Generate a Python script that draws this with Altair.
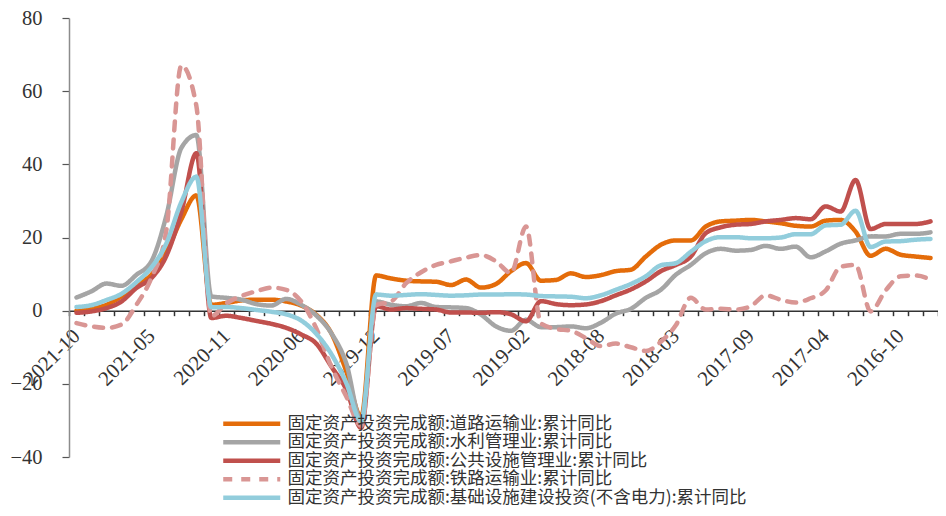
import altair as alt
import pandas as pd

months = [
    "2021-10", "2021-09", "2021-08", "2021-07", "2021-06", "2021-05", "2021-04", "2021-03", "2021-02",
    "2020-12", "2020-11", "2020-10", "2020-09", "2020-08", "2020-07", "2020-06", "2020-05", "2020-04", "2020-03", "2020-02",
    "2019-12", "2019-11", "2019-10", "2019-09", "2019-08", "2019-07", "2019-06", "2019-05", "2019-04", "2019-03", "2019-02",
    "2018-12", "2018-11", "2018-10", "2018-09", "2018-08", "2018-07", "2018-06", "2018-05", "2018-04", "2018-03", "2018-02",
    "2017-12", "2017-11", "2017-10", "2017-09", "2017-08", "2017-07", "2017-06", "2017-05", "2017-04", "2017-03", "2017-02",
    "2016-12", "2016-11", "2016-10", "2016-09", "2016-08",
]
label_months = ["2021-10", "2021-05", "2020-11", "2020-06", "2019-12", "2019-07",
                "2019-02", "2018-08", "2018-03", "2017-09", "2017-04", "2016-10"]

road = [0.0, 0.5, 1.6, 3.9, 7.1, 9.8, 16.0, 25.0, 31.5,
        1.6, 2.1, 2.8, 3.0, 3.0, 2.5, 1.4, -1.1, -6.1, -16.5, -29.0,
        9.6, 8.8, 8.2, 8.0, 7.9, 7.0, 8.5, 6.3, 7.3, 10.8, 13.0,
        8.2, 8.4, 10.2, 9.2, 9.7, 10.8, 11.2, 14.8, 18.0, 19.2, 19.2,
        23.0, 24.4, 24.6, 24.8, 24.4, 23.9, 23.2, 23.0, 24.6, 24.8, 21.6,
        15.0, 16.9, 15.3, 14.8, 14.4]
water = [3.6, 5.3, 7.4, 6.8, 9.8, 13.5, 26.0, 44.5, 48.0,
         3.9, 3.5, 3.0, 1.8, 1.4, 3.2, 1.6, -1.3, -6.1, -14.3, -30.0,
         2.5, 1.6, 1.2, 2.1, 1.0, 0.9, 0.7, -1.1, -4.3, -5.5, -2.5,
         -4.5, -4.5, -4.3, -4.8, -3.3, -0.8, 0.5, 3.5, 5.7, 9.8, 12.5,
         15.7, 16.9, 16.4, 16.6, 17.7, 16.9, 17.5, 14.6, 16.2, 18.3, 19.2,
         20.3, 20.3, 21.0, 21.0, 21.4]
public = [-0.6, -0.2, 0.7, 2.5, 6.2, 8.9, 15.0, 27.0, 43.0,
          -2.0, -1.4, -2.0, -2.8, -3.6, -4.7, -6.5, -9.0, -15.2, -21.5, -32.0,
          1.2, 0.3, 0.7, 0.5, 0.3, -0.5, -0.5, -0.6, -0.4, -1.0, -2.9,
          2.6, 1.8, 1.5, 1.7, 2.6, 4.2, 5.8, 8.0, 10.8, 12.5, 14.8,
          21.2, 22.8, 23.5, 23.7, 24.4, 24.8, 25.3, 25.0, 28.5, 27.1, 35.7,
          22.3, 23.7, 23.7, 23.7, 24.4]
railway = [-3.4, -4.3, -4.7, -3.8, 1.6, 9.0, 22.0, 67.0, 56.0,
           -1.5, 2.0, 4.0, 5.3, 6.3, 5.7, 2.5, -4.8, -15.2, -23.4, -31.5,
           1.5, 2.5, 7.5, 10.5, 12.5, 13.5, 14.5, 15.2, 13.5, 10.3, 23.0,
           -3.5, -5.0, -5.5, -7.5, -9.7, -9.0, -10.0, -11.0, -8.5, -4.0, 3.5,
           0.3, 0.5, 0.3, 1.2, 4.2, 3.0, 2.2, 3.4, 5.5, 12.0, 12.5,
           -0.2, 5.5, 9.4, 9.6, 8.5]
infra = [1.0, 1.5, 2.9, 4.6, 7.8, 11.8, 18.4, 29.7, 36.6,
         0.9, 1.0, 0.7, 0.2, -0.3, -1.0, -2.7, -6.3, -11.8, -19.7, -30.3,
         4.4, 4.1, 4.3, 4.5, 4.3, 4.1, 4.2, 4.4, 4.4, 4.5, 4.4,
         4.0, 3.9, 3.8, 3.4, 4.2, 5.7, 7.3, 9.4, 12.4, 13.0, 16.1,
         19.0, 20.1, 20.1, 19.8, 19.8, 20.0, 20.9, 20.9, 23.3, 23.5, 27.3,
         17.4, 18.9, 19.0, 19.4, 19.6]

series_names = [
    "固定资产投资完成额:道路运输业:累计同比",
    "固定资产投资完成额:水利管理业:累计同比",
    "固定资产投资完成额:公共设施管理业:累计同比",
    "固定资产投资完成额:铁路运输业:累计同比",
    "固定资产投资完成额:基础设施建设投资(不含电力):累计同比",
]
series_values = [road, water, public, railway, infra]
colors = ["#E46C0A", "#A5A5A5", "#C0504D", "#D99694", "#92CDDC"]
dashes = [[1, 0], [1, 0], [1, 0], [9, 9], [1, 0]]

rows = []
for name, vals in zip(series_names, series_values):
    for m, v in zip(months, vals):
        rows.append({"month": m, "value": v, "series": name})
df = pd.DataFrame(rows)

W, H = 869, 439
num_font = "Liberation Serif"
label_expr = "indexof([" + ",".join("'%s'" % m for m in label_months) + "], datum.value) >= 0 ? datum.value : ''"

leg = alt.Legend(
    title=None, orient="none", legendX=198, legendY=397, direction="vertical",
    symbolType="M-11.67,0H1", symbolSize=81, symbolStrokeWidth=4.5,
    labelFont="Noto Sans CJK SC", labelFontSize=17.5, labelColor="#333333",
    labelLimit=0, rowPadding=-0.5, labelOffset=3, padding=0, symbolOffset=0,
)

chart = alt.Chart(df).mark_line(
    interpolate="monotone", strokeWidth=4.5, strokeCap="round", strokeJoin="round"
).encode(
    x=alt.X("month:N", sort=months, title=None,
            scale=alt.Scale(type="band", paddingInner=0, paddingOuter=0),
            axis=alt.Axis(orient="bottom", offset=-H * 40 / 120, tickBand="extent",
                          labelExpr=label_expr, labelOverlap=False, labelAngle=-45,
                          labelAlign="right", labelBaseline="middle", labelPadding=17,
                          labelFont=num_font, labelFontSize=21, labelColor="#333333",
                          tickSize=5, tickColor="#333333", tickWidth=1.5,
                          domainColor="#333333", domainWidth=1.5, grid=False)),
    y=alt.Y("value:Q", title=None,
            scale=alt.Scale(domain=[-40, 80], nice=False, zero=False),
            axis=alt.Axis(values=[-40, -20, 0, 20, 40, 60, 80], labelFont=num_font,
                          labelFontSize=20.5, labelColor="#333333", labelPadding=20,
                          tickSize=7, tickColor="#555555", tickWidth=1.2,
                          domainColor="#8C8C8C", domainWidth=1.5, grid=False)),
    color=alt.Color("series:N", sort=series_names,
                    scale=alt.Scale(domain=series_names, range=colors), legend=leg),
    strokeDash=alt.StrokeDash("series:N", sort=series_names,
                              scale=alt.Scale(domain=series_names, range=dashes), legend=leg),
).properties(
    width=W, height=H,
    padding={"left": 61, "top": 10, "right": 0, "bottom": 51},
    autosize=alt.AutoSizeParams(type="none"),
    background="white",
).configure_view(stroke=None)

chart.save("out.html", embed_options={"renderer": "svg", "actions": False})
